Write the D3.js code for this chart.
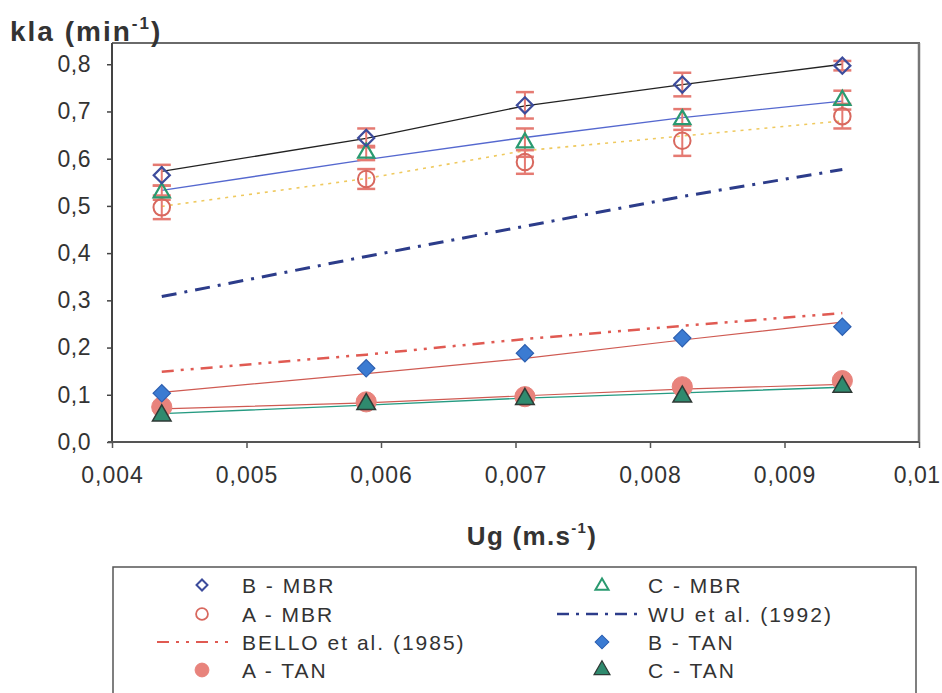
<!DOCTYPE html>
<html>
<head>
<meta charset="utf-8">
<script src="https://cdn.jsdelivr.net/npm/d3@7/dist/d3.min.js"></script>
<style>
  html, body { margin: 0; padding: 0; background: #ffffff; }
  svg text { font-family: "Liberation Sans", Arial, sans-serif; fill: #333; }
</style>
</head>
<body>
<svg id="chart" width="942" height="693"></svg>
<script>
// ---------- data ----------
const ugValues = [0.00437, 0.00589, 0.00707, 0.00824, 0.00943];

const bMBR = [0.565, 0.644, 0.713, 0.757, 0.797];
const bMBRerr = [0.022, 0.02, 0.028, 0.025, 0.01];
const cMBR = [0.528, 0.612, 0.634, 0.683, 0.724];
const cMBRerr = [0.015, 0.015, 0.03, 0.022, 0.02];
const aMBR = [0.497, 0.557, 0.593, 0.638, 0.69];
const aMBRerr = [0.025, 0.021, 0.025, 0.032, 0.026];

const bMBRfit = [0.573, 0.643, 0.712, 0.757, 0.800];
const cMBRfit = [0.533, 0.598, 0.645, 0.687, 0.722];
const aMBRfit = [0.499, 0.558, 0.617, 0.648, 0.680];

const wu1992 = [0.308, 0.393, 0.457, 0.520, 0.577];
const bello1985 = [0.149, 0.185, 0.218, 0.246, 0.273];

const bTAN = [0.103, 0.156, 0.188, 0.220, 0.244];
const aTAN = [0.074, 0.085, 0.096, 0.117, 0.130];
const cTAN = [0.056, 0.080, 0.091, 0.096, 0.117];

const bTANfit = [0.105, 0.145, 0.177, 0.216, 0.254];
const aTANfit = [0.070, 0.083, 0.098, 0.112, 0.122];
const cTANfit = [0.060, 0.078, 0.093, 0.104, 0.116];

const xTicks = [0.004, 0.005, 0.006, 0.007, 0.008, 0.009, 0.01];
const xTickLabels = ["0,004", "0,005", "0,006", "0,007", "0,008", "0,009", "0,01"];
const yTicks = [0, 0.1, 0.2, 0.3, 0.4, 0.5, 0.6, 0.7, 0.8];
const yTickLabels = ["0,0", "0,1", "0,2", "0,3", "0,4", "0,5", "0,6", "0,7", "0,8"];

const legendLeft = ["B - MBR", "A - MBR", "BELLO et al. (1985)", "A - TAN"];
const legendRight = ["C - MBR", "WU et al. (1992)", "B - TAN", "C - TAN"];

// ---------- layout ----------
const svg = d3.select("#chart");
const L = 112, R = 919, T = 43, B = 442;
const x = d3.scaleLinear().domain([0.004, 0.01]).range([L, R]);
const y = d3.scaleLinear().domain([0, 0.845]).range([B, T]);

const col = {
  bMBR: "#3d4c9c", cMBR: "#2a9a70", aMBR: "#d8685e", err: "#e57a72",
  blackFit: "#222222", blueFit: "#5568cf", yellowFit: "#efc95e",
  wu: "#2c3c8a", bello: "#e05a52",
  bTAN: "#3b7bd2", bTANs: "#2d5fb0", aTAN: "#e8837c", cTAN: "#2f8a6e", cTANs: "#2f3a36",
  redFit: "#cf5a52", tealFit: "#269b82"
};

const pts = arr => arr.map((v, i) => [ugValues[i], v]);
const line = d3.line().x(d => x(d[0])).y(d => y(d[1]));

// frame
svg.append("line").attr("x1", L).attr("x2", R + 1).attr("y1", T).attr("y2", T)
  .attr("stroke", "#6a6a6a").attr("stroke-width", 2);
svg.append("line").attr("x1", R).attr("x2", R).attr("y1", T).attr("y2", B)
  .attr("stroke", "#777").attr("stroke-width", 2.5);

// axes
const yAxis = d3.axisLeft(y).tickValues(yTicks).tickFormat((d, i) => yTickLabels[i]).tickSize(5).tickPadding(16);
const gy = svg.append("g").attr("transform", `translate(${L},0)`).call(yAxis);
gy.select(".domain").attr("stroke", "#444").attr("stroke-width", 2).attr("d", `M0,${T}V${B}`);
gy.selectAll(".tick line").attr("stroke", "#444").attr("stroke-width", 1.5);
gy.selectAll(".tick text").attr("font-size", 23).attr("fill", "#333").attr("letter-spacing", 0.5)
  .style("font-family", '"Liberation Sans", Arial, sans-serif');

const xAxis = d3.axisBottom(x).tickValues(xTicks).tickFormat((d, i) => xTickLabels[i]).tickSize(6).tickPadding(19);
const gx = svg.append("g").attr("transform", `translate(0,${B})`).call(xAxis);
gx.select(".domain").attr("stroke", "#555").attr("stroke-width", 2).attr("d", `M${L - 4},0H${R}`);
gx.selectAll(".tick line").attr("stroke", "#555").attr("stroke-width", 1.5);
gx.selectAll(".tick text").attr("font-size", 23).attr("fill", "#333").attr("letter-spacing", 1)
  .style("font-family", '"Liberation Sans", Arial, sans-serif');
// keep the last label inside the picture
gx.selectAll(".tick text").filter((d, i) => i === xTicks.length - 1)
  .attr("text-anchor", "end").attr("dx", 21).attr("letter-spacing", 0.5);

// axis titles
const yt = svg.append("text").attr("x", 10).attr("y", 41).attr("font-size", 28).attr("font-weight", "bold")
  .attr("fill", "#333").attr("letter-spacing", 2);
yt.append("tspan").text("kla (min");
yt.append("tspan").text("-1").attr("font-size", 17).attr("dy", -12);
yt.append("tspan").text(")").attr("dy", 12);

const xt = svg.append("text").attr("x", 532).attr("y", 545).attr("text-anchor", "middle")
  .attr("font-size", 26).attr("font-weight", "bold").attr("fill", "#333").attr("letter-spacing", 1.3);
xt.append("tspan").text("Ug (m.s");
xt.append("tspan").text("-1").attr("font-size", 15).attr("dy", -12);
xt.append("tspan").text(")").attr("dy", 12);

// ---------- lines ----------
const plot = svg.append("g");
function drawLine(arr, color, width, dash) {
  const p = plot.append("path").datum(pts(arr)).attr("d", line)
    .attr("fill", "none").attr("stroke", color).attr("stroke-width", width);
  if (dash) p.attr("stroke-dasharray", dash);
  return p;
}
drawLine(wu1992, col.wu, 3, "15,8,3,8");
drawLine(bello1985, col.bello, 2.5, "12,7,3,7,3,7");
drawLine(aMBRfit, col.yellowFit, 1.6, "3,5");
drawLine(cMBRfit, col.blueFit, 1.4);
drawLine(bMBRfit, col.blackFit, 1.3);
drawLine(bTANfit, col.redFit, 1.2);
drawLine(aTANfit, col.redFit, 1.2);
drawLine(cTANfit, col.tealFit, 1.4);

// ---------- error bars ----------
function drawErr(arr, err) {
  const g = plot.append("g").attr("stroke", col.err).attr("stroke-width", 2);
  arr.forEach((v, i) => {
    const cx = x(ugValues[i]);
    g.append("line").attr("x1", cx).attr("x2", cx).attr("y1", y(v - err[i])).attr("y2", y(v + err[i]));
    [v - err[i], v + err[i]].forEach(e => {
      g.append("line").attr("x1", cx - 9).attr("x2", cx + 9).attr("y1", y(e)).attr("y2", y(e)).attr("stroke-width", 2.5);
    });
  });
}
drawErr(bMBR, bMBRerr);
drawErr(cMBR, cMBRerr);
drawErr(aMBR, aMBRerr);

// ---------- markers ----------
const diamond = (size) => d3.symbol().type(d3.symbolSquare).size(size)();
function drawMarkers(arr, pathD, fill, stroke, sw, rotate) {
  plot.append("g").selectAll("path").data(pts(arr)).join("path")
    .attr("d", pathD)
    .attr("transform", d => `translate(${x(d[0])},${y(d[1])})` + (rotate ? " rotate(45)" : ""))
    .attr("fill", fill).attr("stroke", stroke).attr("stroke-width", sw);
}
drawMarkers(aMBR, d3.symbol().type(d3.symbolCircle).size(215)(), "none", col.aMBR, 2);
drawMarkers(cMBR, d3.symbol().type(d3.symbolTriangle).size(115)(), "none", col.cMBR, 2.2);
drawMarkers(bMBR, diamond(130), "none", col.bMBR, 2.2, true);

drawMarkers(aTAN, d3.symbol().type(d3.symbolCircle).size(320)(), col.aTAN, col.aTAN, 1);
drawMarkers(cTAN, d3.symbol().type(d3.symbolTriangle).size(150)(), col.cTAN, col.cTANs, 1.5);
drawMarkers(bTAN, diamond(150), col.bTAN, col.bTANs, 1.2, true);

// ---------- legend ----------
const lg = svg.append("g");
lg.append("rect").attr("x", 113).attr("y", 567).attr("width", 803).attr("height", 140)
  .attr("fill", "#fff").attr("stroke", "#555").attr("stroke-width", 1.5);

const rowsY = [585, 614, 642, 670];
const lx1 = 202, lx2 = 602, tx1 = 242, tx2 = 648;
function legText(tx, ty, label) {
  lg.append("text").attr("x", tx).attr("y", ty + 7.5).attr("font-size", 21).attr("letter-spacing", 2)
    .attr("fill", "#333").text(label);
}
function legSym(cx, cy, d, fill, stroke, sw, rot) {
  lg.append("path").attr("d", d).attr("transform", `translate(${cx},${cy})` + (rot ? " rotate(45)" : ""))
    .attr("fill", fill).attr("stroke", stroke).attr("stroke-width", sw);
}
legendLeft.forEach((lab, i) => legText(tx1, rowsY[i], lab));
legendRight.forEach((lab, i) => legText(tx2, rowsY[i], lab));

legSym(lx1, rowsY[0], diamond(60), "none", col.bMBR, 2, true);
legSym(lx1, rowsY[1], d3.symbol().type(d3.symbolCircle).size(110)(), "none", col.aMBR, 1.8);
lg.append("line").attr("x1", 157).attr("x2", 231).attr("y1", rowsY[2]).attr("y2", rowsY[2])
  .attr("stroke", col.bello).attr("stroke-width", 2).attr("stroke-dasharray", "12,7,3,7,3,7");
legSym(lx1, rowsY[3], d3.symbol().type(d3.symbolCircle).size(150)(), col.aTAN, col.aTAN, 1);

legSym(lx2, rowsY[0] + 1, d3.symbol().type(d3.symbolTriangle).size(75)(), "none", col.cMBR, 2);
lg.append("line").attr("x1", 557).attr("x2", 642).attr("y1", rowsY[1]).attr("y2", rowsY[1])
  .attr("stroke", col.wu).attr("stroke-width", 2.5).attr("stroke-dasharray", "12,7,3,7");
legSym(lx2, rowsY[2], diamond(95), col.bTAN, col.bTANs, 1, true);
legSym(lx2, rowsY[3], d3.symbol().type(d3.symbolTriangle).size(110)(), col.cTAN, col.cTANs, 1.2);
</script>
</body>
</html>
